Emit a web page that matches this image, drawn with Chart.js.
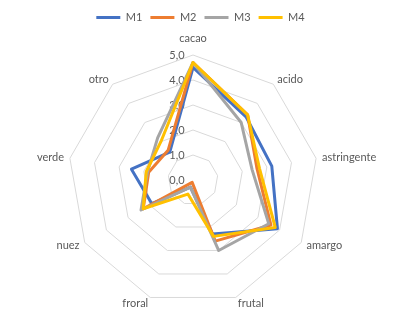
<!DOCTYPE html>
<html>
<head>
<meta charset="utf-8">
<script src="https://cdn.jsdelivr.net/npm/chart.js@4/dist/chart.umd.min.js"></script>
<style>
  html, body { margin: 0; padding: 0; background: #fff; }
  #wrap { width: 401px; height: 321px; }
</style>
</head>
<body>
<div id="wrap"><canvas id="chart" width="401" height="321"></canvas></div>
<script>
// Atributos sensoriales (eje angular)
const atributos = ['cacao', 'acido', 'astringente', 'amargo', 'frutal', 'froral', 'nuez', 'verde', 'otro'];

// Puntuaciones por muestra
const m1 = [4.5, 3.3, 3.2, 3.9, 2.3, 0.3, 1.9, 2.5, 1.45];
const m2 = [4.7, 3.4, 2.6, 3.6, 2.6, 0.1, 2.3, 1.8, 1.55];
const m3 = [4.7, 3.0, 2.4, 3.5, 3.0, 0.3, 2.4, 1.85, 2.2];
const m4 = [4.7, 3.4, 2.7, 3.8, 2.4, 0.6, 2.3, 1.9, 2.0];

const series = ['M1', 'M2', 'M3', 'M4'];
const colores = ['#4472C4', '#ED7D31', '#A5A5A5', '#FFC000'];

// Ticks del eje radial
const tickValues = [0, 1, 2, 3, 4, 5];

const textColor = '#595959';
const fontFamily = 'Lato, "Open Sans", sans-serif';

// Geometría del radar (centro y radio como en la imagen original)
const CX = 193, CY = 180, RADIO = 125;

const datasets = [m1, m2, m3, m4].map((vals, i) => ({
  label: series[i],
  data: vals,
  borderColor: colores[i],
  backgroundColor: colores[i],
  borderWidth: 3,
  borderJoinStyle: 'round',
  fill: false,
  pointRadius: 0,
  pointHoverRadius: 0,
  tension: 0,
  order: 3 - i // M4 encima, como en Excel
}));

new Chart(document.getElementById('chart'), {
  type: 'radar',
  data: { labels: atributos, datasets: datasets },
  options: {
    responsive: false,
    devicePixelRatio: 1,
    animation: false,
    layout: { padding: { top: 4 } },
    plugins: {
      legend: {
        position: 'top',
        labels: {
          usePointStyle: true,
          pointStyle: 'line',
          pointStyleWidth: 24,
          boxHeight: 11,
          padding: 8,
          color: textColor,
          font: { family: fontFamily, size: 11 },
          sort: (a, b) => a.datasetIndex - b.datasetIndex
        }
      },
      tooltip: { enabled: false }
    },
    scales: {
      r: {
        min: 0,
        max: 5,
        afterBuildTicks: (scale) => {
          scale.ticks = tickValues.map(v => ({ value: v }));
        },
        ticks: {
          stepSize: 1,
          color: textColor,
          showLabelBackdrop: false,
          backdropPadding: 2,
          font: { family: fontFamily, size: 11 },
          callback: (v) => v.toFixed(1).replace('.', ',')
        },
        grid: { color: '#D9D9D9', lineWidth: 1, circular: false },
        angleLines: { display: false },
        pointLabels: {
          color: textColor,
          padding: 2,
          font: { family: fontFamily, size: 11 }
        },
        beforeFit: (scale) => {
          // fijar centro y radio
          scale.setCenterPoint = function () {
            this.xCenter = CX;
            this.yCenter = CY;
            this.drawingArea = RADIO;
          };
          if (!scale._labelsPatched) {
            const orig = scale.drawLabels;
            scale.drawLabels = function () {
              // las etiquetas de Excel van a la izquierda del eje e incluyen 0,0
              const min = this.min;
              this.min = -1e-9;
              this.ctx.save();
              this.ctx.translate(-16, 0);
              orig.call(this);
              this.ctx.restore();
              this.min = min;
            };
            scale._labelsPatched = true;
          }
        },
        afterFit: (scale) => {
          // etiquetas centradas verticalmente en su vértice (salvo la de arriba)
          (scale._pointLabelItems || []).forEach((item, i) => {
            const h = item.bottom - item.top;
            const p = scale.getPointPosition(i, scale.drawingArea + (i === 0 ? 10 : 6));
            item.x = p.x;
            item.y = i === 0 ? p.y - h : p.y - h / 2;
          });
        }
      }
    }
  }
});
</script>
</body>
</html>
